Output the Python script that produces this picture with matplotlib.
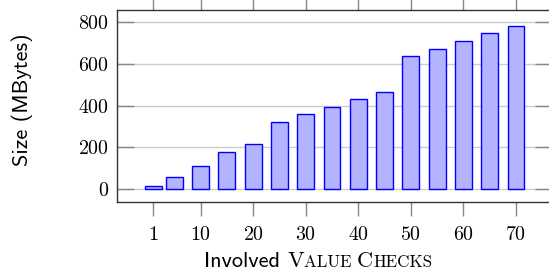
import matplotlib
matplotlib.use('Agg')
from matplotlib import pyplot as plt
from matplotlib.offsetbox import TextArea, HPacker, AnchoredOffsetbox

# data
checks=[1,5,10,15,20,25,30,35,40,45,50,55,60,65,70]
sizes=[13,56,110,179,216,319,358,391,430,466,635,672,709,746,782]
xticks=[1,10,20,30,40,50,60,70]
yticks=[0,200,400,600,800]

plt.rcParams['axes.formatter.use_mathtext']=True

fig=plt.figure(figsize=(5.49,2.73),dpi=100)
ax=fig.add_axes([117/549,71/273,435/549,192/273])
ax.bar(checks,sizes,width=3.2,color='#b3b3ff',edgecolor='#0000ff',linewidth=1,zorder=3)
ax.set_xlim(-5.9,76.85)
ax.set_ylim(-62,857.5)
ax.set_xticks(xticks)
ax.set_yticks(yticks)
ax.yaxis.grid(True,color='#cccccc',linewidth=1)
ax.set_axisbelow(True)
ax.tick_params(axis='x',direction='out',length=10,width=1,color='#888888',top=True,pad=7)
ax.tick_params(axis='y',direction='in',length=12,width=1,color='#888888',right=True,pad=6)
for lab in ax.get_xticklabels()+ax.get_yticklabels():
    lab.set_fontfamily('cmr10')
    lab.set_fontsize(14.4)
for sp in ax.spines.values():
    sp.set_color('#333333')
    sp.set_linewidth(1)

fig.text(22/549,1-100/273,'Size (MBytes)',rotation=90,ha='center',va='center',
         family='cmss10',fontsize=16)

# x label with fake small caps
big=dict(family='cmr10',size=16)
small=dict(family='cmr10',size=12.2)
parts=[TextArea('Involved ',textprops=dict(family='cmss10',size=16)),
       TextArea('V',textprops=big),TextArea('ALUE ',textprops=small),
       TextArea('C',textprops=big),TextArea('HECKS',textprops=small)]
box=HPacker(children=parts,align='baseline',pad=0,sep=0)
anch=AnchoredOffsetbox(loc='center',child=box,pad=0,borderpad=0,frameon=False,
                       bbox_to_anchor=(318/549,1-261/273),bbox_transform=fig.transFigure)
fig.add_artist(anch)

fig.savefig('out.png',dpi=100)
